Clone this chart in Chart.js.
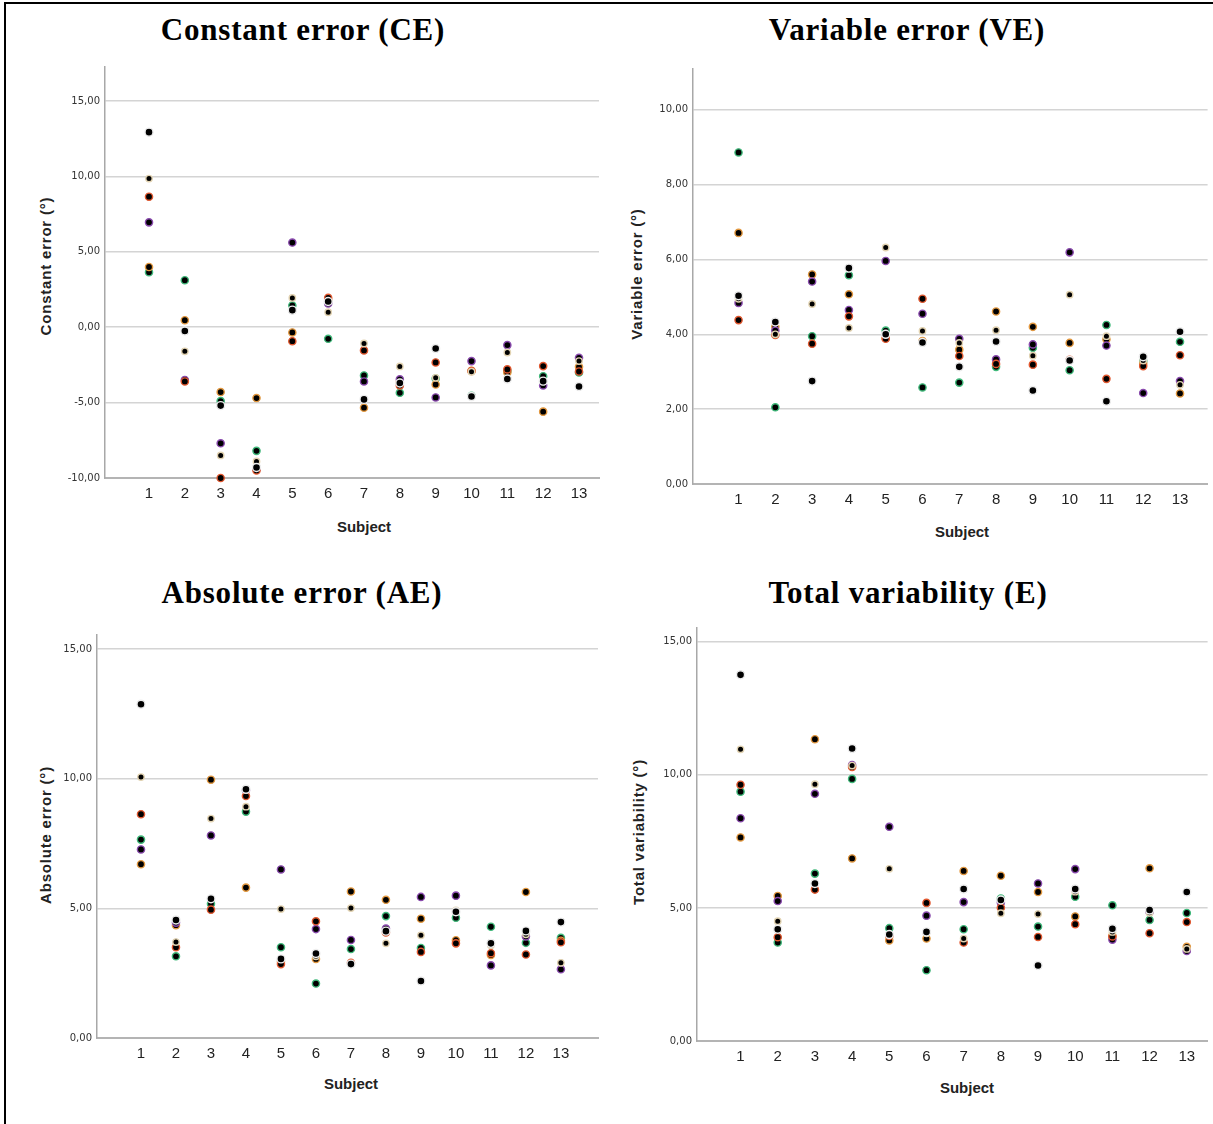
<!DOCTYPE html>
<html>
<head>
<meta charset="utf-8">
<script src="https://cdn.jsdelivr.net/npm/chart.js@4.4.1/dist/chart.umd.min.js"></script>
<style>
  body { margin: 0; background: #fff; width: 1213px; height: 1124px; position: relative; overflow: hidden; font-family: "Liberation Sans", Arial, sans-serif; }
  .frame { position: absolute; left: 4px; top: 2px; right: -4px; bottom: -4px; border-left: 2px solid #000; border-top: 2px solid #000; }
  .title { position: absolute; font-family: "Liberation Serif", serif; font-weight: bold; font-size: 31px; letter-spacing: 0.8px; white-space: nowrap; transform: translate(-50%, -50%); color: #000; }
  .xt { position: absolute; font-weight: bold; font-size: 15px; color: #222; white-space: nowrap; transform: translate(-50%, -50%); }
  .yt { position: absolute; font-weight: bold; font-size: 15px; letter-spacing: 0.8px; color: #222; white-space: nowrap; transform: translate(-50%, -50%) rotate(-90deg); }
  canvas { position: absolute; }
</style>
</head>
<body>
<div class="frame"></div>

<div class="title" style="left:303px;top:30px">Constant error (CE)</div>
<div class="title" style="left:907px;top:30px">Variable error (VE)</div>
<div class="title" style="left:302px;top:593px">Absolute error (AE)</div>
<div class="title" style="left:908px;top:593px">Total variability (E)</div>

<div class="yt" style="left:45px;top:266px">Constant error (°)</div>
<div class="yt" style="left:636px;top:274px">Variable error (°)</div>
<div class="yt" style="left:45px;top:835px">Absolute error (°)</div>
<div class="yt" style="left:638px;top:832px">Total variability (°)</div>

<div class="xt" style="left:364px;top:526px">Subject</div>
<div class="xt" style="left:962px;top:531px">Subject</div>
<div class="xt" style="left:351px;top:1083px">Subject</div>
<div class="xt" style="left:967px;top:1087px">Subject</div>

<canvas id="ce"></canvas>
<canvas id="ve"></canvas>
<canvas id="ae"></canvas>
<canvas id="te"></canvas>

<script>
// subjects on the x axis
const subjects = [1, 2, 3, 4, 5, 6, 7, 8, 9, 10, 11, 12, 13];

// Constant error (CE), one array per marker colour
const ceBlack  = [12.93, -0.25, -5.2, -9.3, 1.13, 1.7, -4.79, -3.7, -1.41, -4.6, -3.44, -3.58, -3.93];
const ceBeige  = [9.85, -1.6, -8.5, -8.9, 1.94, 0.99, -1.08, -2.6, -3.36, -2.95, -1.68, -3.6, -2.25];
const ceRed    = [8.65, -3.6, -10.0, -9.5, -0.93, 1.94, -1.54, -3.86, -2.34, -2.91, -2.8, -2.58, -2.94];
const cePurple = [6.95, -3.5, -7.7, -9.4, 5.61, 1.57, -3.6, -3.46, -4.66, -2.25, -1.19, -3.86, -2.03];
const ceOrange = [3.99, 0.46, -4.3, -4.7, -0.35, 1.8, -5.34, -3.64, -3.8, -2.9, -3.0, -5.6, -2.63];
const ceGreen  = [3.64, 3.11, -4.9, -8.2, 1.44, -0.77, -3.2, -4.35, -3.4, -4.55, -2.91, -3.25, -3.0];
const ceTicks  = [-10, -5, 0, 5, 10, 15];

// Variable error (VE)
const veBlack  = [5.03, 4.33, 2.75, 5.77, 4.0, 3.78, 3.13, 3.81, 2.5, 3.3, 2.21, 3.4, 4.07];
const veBeige  = [4.95, 4.0, 4.81, 4.17, 6.32, 4.09, 3.77, 4.11, 3.43, 5.06, 3.95, 3.3, 2.65];
const veRed    = [4.38, 3.98, 3.75, 4.48, 3.88, 4.95, 3.42, 3.21, 3.19, 3.32, 2.81, 3.15, 3.44];
const vePurple = [4.84, 4.1, 5.41, 4.65, 5.96, 4.55, 3.88, 3.33, 3.73, 6.19, 3.7, 2.43, 2.75];
const veOrange = [6.71, 4.2, 5.6, 5.07, 3.9, 3.82, 3.59, 4.61, 4.2, 3.77, 3.87, 3.22, 2.42];
const veGreen  = [8.86, 2.05, 3.95, 5.58, 4.1, 2.58, 2.71, 3.13, 3.64, 3.04, 4.25, 3.29, 3.8];
const veTicks  = [0, 2, 4, 6, 8, 10];

// Absolute error (AE)
const aeBlack  = [12.87, 4.55, 5.37, 9.59, 3.05, 3.26, 2.85, 4.12, 2.2, 4.87, 3.65, 4.13, 4.47];
const aeBeige  = [10.06, 3.7, 8.46, 8.92, 4.97, 3.15, 5.01, 3.65, 3.96, 4.92, 3.58, 4.0, 2.9];
const aeRed    = [8.63, 3.5, 4.95, 9.33, 2.85, 4.5, 2.9, 4.07, 3.32, 3.65, 3.27, 3.22, 3.69];
const aePurple = [7.27, 4.45, 7.81, 9.55, 6.5, 4.2, 3.78, 4.22, 5.44, 5.49, 2.8, 3.92, 2.65];
const aeOrange = [6.7, 4.35, 9.96, 5.8, 2.95, 3.05, 5.65, 5.33, 4.6, 3.77, 3.2, 5.63, 3.75];
const aeGreen  = [7.65, 3.15, 5.18, 8.73, 3.5, 2.1, 3.43, 4.7, 3.47, 4.64, 4.29, 3.67, 3.86];
const aeTicks  = [0, 5, 10, 15];

// Total variability (E)
const teBlack  = [13.76, 4.2, 5.92, 10.99, 4.0, 4.1, 5.71, 5.3, 2.84, 5.71, 4.22, 4.92, 5.6];
const teBeige  = [10.96, 4.5, 9.65, 10.35, 6.47, 4.05, 3.85, 4.8, 4.77, 5.61, 4.1, 4.82, 3.46];
const teRed    = [9.63, 3.9, 5.69, 10.3, 3.95, 5.19, 3.7, 5.01, 3.91, 4.39, 3.93, 4.05, 4.47];
const tePurple = [8.37, 5.26, 9.29, 10.37, 8.05, 4.71, 5.22, 5.2, 5.92, 6.46, 3.81, 4.85, 3.38];
const teOrange = [7.65, 5.45, 11.34, 6.86, 3.78, 3.85, 6.39, 6.21, 5.6, 4.68, 3.95, 6.49, 3.54];
const teGreen  = [9.37, 3.7, 6.29, 9.85, 4.24, 2.66, 4.2, 5.35, 4.3, 5.42, 5.1, 4.55, 4.81];
const teTicks  = [0, 5, 10, 15];

// marker rings: the fill is black, only the edge colour changes
const rings = [
  { color: '#eeeeee', r: 4.0 },
  { color: '#e2d3b2', r: 3.2 },
  { color: '#e2582f', r: 3.6 },
  { color: '#8a4aae', r: 3.6 },
  { color: '#e3983f', r: 3.6 },
  { color: '#3fb97a', r: 3.6 }
];

function fmt(v) {
  return v.toFixed(2).replace('.', ',');
}

// box = chart area on the page (l, r, t, b), pr = room to the right
function panel(id, box, xr, yr, yTicks, series) {
  const cv = document.getElementById(id);
  const w = box.r - box.l + 60 + box.pr;
  const h = box.b - box.t + 40;
  cv.width = w;
  cv.height = h;
  cv.style.width = w + 'px';
  cv.style.height = h + 'px';
  cv.style.left = (box.l - 60) + 'px';
  cv.style.top = (box.t - 10) + 'px';

  const datasets = series.map((vals, i) => ({
    data: vals.map((v, k) => ({ x: subjects[k], y: v })),
    backgroundColor: '#000',
    borderColor: rings[i].color,
    borderWidth: 1.4,
    pointRadius: rings[i].r,
    clip: false
  }));

  new Chart(cv, {
    type: 'scatter',
    data: { datasets: datasets },
    options: {
      responsive: false,
      animation: false,
      devicePixelRatio: 1,
      layout: { padding: { top: 10, right: box.pr, left: 0, bottom: 0 } },
      plugins: { legend: { display: false }, tooltip: { enabled: false } },
      scales: {
        x: {
          type: 'linear',
          min: xr[0],
          max: xr[1],
          afterBuildTicks: s => { s.ticks = subjects.map(v => ({ value: v })); },
          afterFit: s => { s.height = 30; },
          grid: { display: false, drawTicks: false },
          border: { display: true, color: '#b4b4b4', width: 2 },
          ticks: {
            font: { family: 'Liberation Sans', size: 15 },
            color: '#222',
            padding: 7,
            autoSkip: false,
            maxRotation: 0
          }
        },
        y: {
          min: yr[0],
          max: yr[1],
          afterBuildTicks: s => { s.ticks = yTicks.map(v => ({ value: v })); },
          afterFit: s => { s.width = 60; },
          grid: { color: '#d4d4d4', lineWidth: 1.5, drawTicks: false },
          border: { display: true, color: '#a8a8a8', width: 1.5 },
          ticks: {
            callback: v => fmt(v),
            font: { family: 'DejaVu Sans', size: 10 },
            color: '#333',
            padding: 5
          }
        }
      }
    }
  });
}

panel('ce', { l: 105, r: 599, t: 66, b: 478, pr: 8 }, [-0.228, 13.558], [-10, 17.25], ceTicks,
  [ceBlack, ceBeige, ceRed, cePurple, ceOrange, ceGreen]);
panel('ve', { l: 693, r: 1213, t: 68, b: 484, pr: 0 }, [-0.238, 13.75], [0, 11.09], veTicks,
  [veBlack, veBeige, veRed, vePurple, veOrange, veGreen]);
panel('ae', { l: 97, r: 598, t: 634, b: 1038, pr: 8 }, [-0.257, 14.06], [0, 15.54], aeTicks,
  [aeBlack, aeBeige, aeRed, aePurple, aeOrange, aeGreen]);
panel('te', { l: 697, r: 1213, t: 627, b: 1041, pr: 0 }, [-0.171, 13.56], [0, 15.52], teTicks,
  [teBlack, teBeige, teRed, tePurple, teOrange, teGreen]);
</script>
</body>
</html>
